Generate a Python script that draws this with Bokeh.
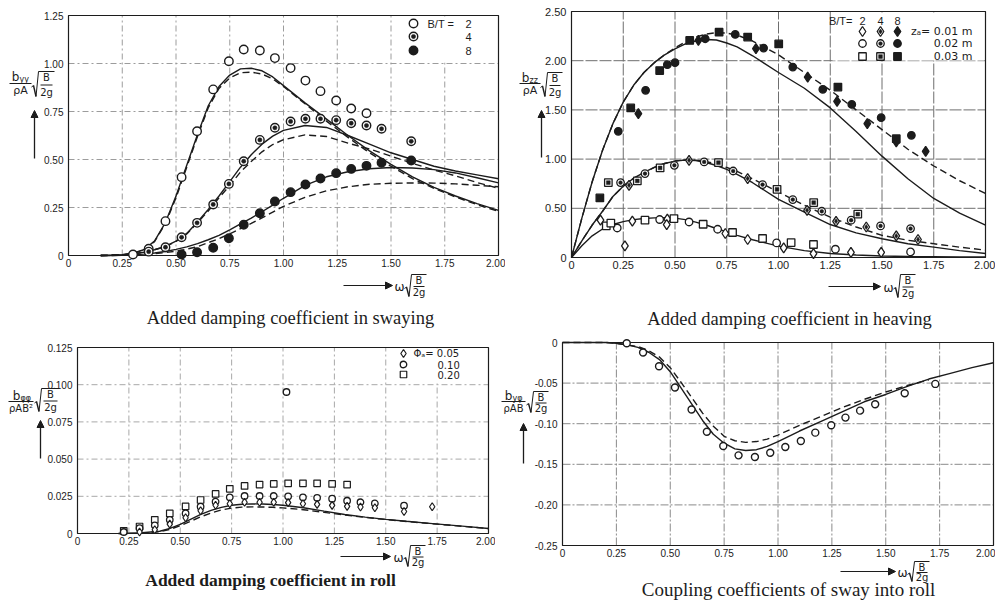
from bokeh.plotting import figure
from bokeh.models import Range1d, FixedTicker, Label, Arrow, NormalHead, LinearAxis
from bokeh.layouts import column, row
from bokeh.embed import file_html
from bokeh.resources import INLINE

INK = "#1c1c1c"
SANS = "Liberation Sans"
GREEK = "DejaVu Sans"
SERIF = "Liberation Serif"

# ====================== DATA ======================
X_TICKS = [0, 0.25, 0.5, 0.75, 1.0, 1.25, 1.5, 1.75, 2.0]
X_LABELS = ["0", "0.25", "0.50", "0.75", "1.00", "1.25", "1.50", "1.75", "2.00"]

# --- Panel 1: sway damping ---
SW_Y_TICKS = [0, 0.25, 0.5, 0.75, 1.0, 1.25]
SW_Y_LABELS = ["0", "0.25", "0.50", "0.75", "1.00", "1.25"]
SW2_X = [0.30, 0.373, 0.451, 0.526, 0.598, 0.673, 0.746, 0.815, 0.890, 0.960, 1.033, 1.102, 1.172, 1.245, 1.315, 1.386]
SW2_Y = [0.005, 0.035, 0.179, 0.408, 0.647, 0.865, 1.012, 1.073, 1.068, 1.028, 0.976, 0.911, 0.856, 0.807, 0.766, 0.741]
SW4_X = [0.373, 0.451, 0.526, 0.598, 0.673, 0.746, 0.815, 0.890, 0.960, 1.033, 1.102, 1.172, 1.245, 1.315, 1.386, 1.456, 1.594]
SW4_Y = [0.020, 0.043, 0.095, 0.170, 0.266, 0.373, 0.491, 0.602, 0.665, 0.698, 0.712, 0.712, 0.705, 0.689, 0.677, 0.660, 0.595]
SW8_X = [0.526, 0.598, 0.673, 0.746, 0.815, 0.890, 0.960, 1.033, 1.102, 1.172, 1.245, 1.315, 1.386, 1.456, 1.594]
SW8_Y = [0.005, 0.017, 0.040, 0.090, 0.160, 0.220, 0.281, 0.330, 0.370, 0.401, 0.429, 0.451, 0.467, 0.483, 0.495]
SW_CX = [0.15, 0.2, 0.25, 0.3, 0.35, 0.4, 0.45, 0.5, 0.55, 0.6, 0.65, 0.7, 0.75, 0.8, 0.85, 0.9, 0.95, 1.0,
         1.1, 1.2, 1.3, 1.4, 1.5, 1.6, 1.7, 1.8, 1.9, 2.0]
SW2_SOLID = [0, 0.001, 0.004, 0.012, 0.03, 0.075, 0.17, 0.31, 0.47, 0.63, 0.78, 0.88, 0.94, 0.972, 0.975, 0.962, 0.93, 0.885,
             0.795, 0.71, 0.625, 0.545, 0.475, 0.41, 0.355, 0.31, 0.27, 0.235]
SW2_DASH = [0, 0.001, 0.004, 0.011, 0.028, 0.072, 0.165, 0.30, 0.46, 0.62, 0.77, 0.87, 0.925, 0.952, 0.955, 0.945, 0.92, 0.88,
            0.79, 0.70, 0.615, 0.535, 0.465, 0.40, 0.35, 0.305, 0.265, 0.23]
SW4_SOLID = [0, 0.001, 0.003, 0.008, 0.017, 0.03, 0.047, 0.075, 0.115, 0.175, 0.24, 0.31, 0.385, 0.46, 0.525, 0.58, 0.622, 0.652,
             0.677, 0.667, 0.625, 0.58, 0.535, 0.50, 0.465, 0.44, 0.42, 0.40]
SW4_DASH = [0, 0.001, 0.003, 0.008, 0.017, 0.03, 0.046, 0.073, 0.112, 0.17, 0.232, 0.30, 0.365, 0.435, 0.49, 0.54, 0.578, 0.603,
            0.628, 0.62, 0.585, 0.555, 0.517, 0.48, 0.445, 0.415, 0.38, 0.35]
SW8_SOLID = [0, 0, 0.001, 0.003, 0.007, 0.013, 0.021, 0.032, 0.045, 0.062, 0.082, 0.105, 0.133, 0.165, 0.195, 0.228, 0.262, 0.298,
             0.365, 0.41, 0.436, 0.452, 0.458, 0.456, 0.447, 0.43, 0.405, 0.378]
SW8_DASH = [0, 0, 0.001, 0.002, 0.005, 0.009, 0.015, 0.023, 0.033, 0.046, 0.067, 0.088, 0.113, 0.14, 0.167, 0.196, 0.226, 0.256,
            0.303, 0.337, 0.358, 0.371, 0.376, 0.378, 0.377, 0.373, 0.366, 0.358]

# --- Panel 2: heave damping ---
HV_Y_TICKS = [0, 0.5, 1.0, 1.5, 2.0, 2.5]
HV_Y_LABELS = ["0", "0.50", "1.00", "1.50", "2.00", "2.50"]
# B/T = 8 (filled)
HV8_DI_X = [0.323, 0.613, 0.891, 1.141, 1.283, 1.429, 1.569, 1.711]
HV8_DI_Y = [1.462, 2.206, 2.122, 1.834, 1.587, 1.36, 1.174, 1.079]
HV8_CI_X = [0.226, 0.358, 0.463, 0.5, 0.646, 0.791, 0.928, 1.069, 1.214, 1.354, 1.496, 1.642]
HV8_CI_Y = [1.282, 1.699, 1.96, 1.98, 2.223, 2.267, 2.128, 1.935, 1.709, 1.556, 1.421, 1.242]
HV8_SQ_X = [0.137, 0.286, 0.426, 0.571, 0.713, 0.851, 1.001, 1.287, 1.569]
HV8_SQ_Y = [0.605, 1.52, 1.90, 2.206, 2.29, 2.24, 2.17, 1.732, 1.208]
# B/T = 4 (half filled)
HV4_DI_X = [0.278, 0.568, 0.851, 1.138, 1.278, 1.424, 1.569, 1.674]
HV4_DI_Y = [0.734, 0.988, 0.802, 0.48, 0.368, 0.31, 0.219, 0.183]
HV4_CI_X = [0.237, 0.355, 0.497, 0.641, 0.781, 0.923, 1.069, 1.209, 1.351, 1.493, 1.638]
HV4_CI_Y = [0.761, 0.853, 0.937, 0.971, 0.879, 0.741, 0.589, 0.47, 0.379, 0.321, 0.294]
HV4_SQ_X = [0.178, 0.318, 0.428, 0.71, 0.993, 1.17, 1.383]
HV4_SQ_Y = [0.761, 0.778, 0.91, 0.964, 0.693, 0.558, 0.44]
# B/T = 2 (open)
HV2_DI_X = [0.140, 0.258, 0.294, 0.463, 0.46, 0.743, 0.851, 1.025, 1.169, 1.35, 1.496]
HV2_DI_Y = [0.379, 0.118, 0.369, 0.39, 0.335, 0.244, 0.183, 0.098, 0.04, 0.051, 0.051]
HV2_CI_X = [0.221, 0.426, 0.568, 0.706, 0.991, 1.275, 1.638]
HV2_CI_Y = [0.30, 0.386, 0.361, 0.287, 0.148, 0.084, 0.057]
HV2_SQ_X = [0.168, 0.19, 0.355, 0.495, 0.636, 0.778, 0.923, 1.061, 1.169]
HV2_SQ_Y = [0.321, 0.35, 0.379, 0.396, 0.338, 0.254, 0.193, 0.152, 0.132]
HV_CX = [0, 0.05, 0.1, 0.15, 0.2, 0.25, 0.3, 0.35, 0.4, 0.45, 0.5, 0.55, 0.6, 0.65, 0.7, 0.75, 0.8, 0.875,
         1.0, 1.125, 1.25, 1.375, 1.5, 1.625, 1.75, 1.875, 2.0]
HV8_SOLID = [0, 0.40, 0.77, 1.09, 1.36, 1.58, 1.75, 1.88, 1.98, 2.06, 2.12, 2.17, 2.20, 2.215, 2.21, 2.18, 2.14, 2.05,
             1.88, 1.72, 1.52, 1.28, 1.03, 0.80, 0.60, 0.45, 0.33]
HV8_DASH = [0, 0.40, 0.77, 1.09, 1.36, 1.58, 1.75, 1.88, 1.98, 2.06, 2.13, 2.19, 2.24, 2.27, 2.285, 2.28, 2.26, 2.20,
            2.06, 1.88, 1.70, 1.50, 1.30, 1.10, 0.93, 0.78, 0.65]
HV4_SOLID = [0, 0.17, 0.33, 0.47, 0.62, 0.725, 0.805, 0.865, 0.915, 0.955, 0.98, 0.99, 0.985, 0.965, 0.935, 0.895, 0.845, 0.76,
             0.59, 0.46, 0.335, 0.25, 0.19, 0.14, 0.105, 0.07, 0.04]
HV4_DASH = [0, 0.17, 0.33, 0.47, 0.62, 0.725, 0.805, 0.865, 0.915, 0.955, 0.98, 0.992, 0.99, 0.975, 0.95, 0.915, 0.875, 0.80,
            0.665, 0.53, 0.41, 0.31, 0.225, 0.175, 0.14, 0.105, 0.075]
HV2_SOLID = [0, 0.12, 0.22, 0.29, 0.335, 0.365, 0.385, 0.397, 0.403, 0.405, 0.40, 0.385, 0.36, 0.33, 0.295, 0.26, 0.225, 0.18,
             0.115, 0.07, 0.04, 0.025, 0.015, 0.01, 0.008, 0.006, 0.005]

# --- Panel 3: roll damping ---
RO_Y_TICKS = [0, 0.025, 0.05, 0.075, 0.1, 0.125]
RO_Y_LABELS = ["0", "0.025", "0.050", "0.075", "0.100", "0.125"]
RO_SQ_X = [0.225, 0.302, 0.376, 0.449, 0.526, 0.599, 0.672, 0.741, 0.813, 0.886, 0.955, 1.025, 1.097, 1.166, 1.239, 1.312]
RO_SQ_Y = [0.0018, 0.0047, 0.0092, 0.0135, 0.0182, 0.0225, 0.0266, 0.0300, 0.0320, 0.0329, 0.0333, 0.0337, 0.0337, 0.0337, 0.0333, 0.0329]
RO_CI_X = [0.225, 0.302, 0.376, 0.449, 0.526, 0.599, 0.672, 0.741, 0.813, 0.886, 0.955, 1.025, 1.097, 1.166, 1.239, 1.312,
           1.377, 1.447, 1.589, 1.017]
RO_CI_Y = [0.001, 0.0036, 0.0055, 0.0092, 0.0135, 0.018, 0.0214, 0.0243, 0.0252, 0.0252, 0.0252, 0.025, 0.0243, 0.024, 0.0234, 0.022,
           0.021, 0.0202, 0.0187, 0.0951]
RO_DI_X = [0.302, 0.376, 0.449, 0.526, 0.599, 0.672, 0.741, 0.813, 0.886, 0.955, 1.025, 1.097, 1.166, 1.239, 1.312, 1.377, 1.447,
           1.589, 1.726]
RO_DI_Y = [0.001, 0.0025, 0.0063, 0.0106, 0.0153, 0.019, 0.020, 0.021, 0.021, 0.021, 0.0207, 0.020, 0.0196, 0.0189, 0.0182, 0.0178,
           0.0173, 0.0148, 0.018]
RO_CX = [0.2, 0.3, 0.4, 0.45, 0.5, 0.55, 0.6, 0.65, 0.7, 0.75, 0.8, 0.85, 0.9, 0.95, 1.0, 1.1, 1.2, 1.3, 1.4, 1.5, 1.6, 1.7, 1.8, 1.9, 2.0]
RO_SOLID = [0, 0.0003, 0.0015, 0.0034, 0.0062, 0.0095, 0.0128, 0.0155, 0.0176, 0.0190, 0.0197, 0.0199, 0.0198, 0.0195, 0.0190,
            0.0173, 0.0150, 0.0128, 0.0110, 0.0095, 0.0082, 0.0070, 0.0058, 0.0046, 0.0034]
RO_DASH = [0, 0.0002, 0.0012, 0.0028, 0.0052, 0.0082, 0.0112, 0.0138, 0.0158, 0.0171, 0.0177, 0.0179, 0.0178, 0.0176, 0.0172,
           0.0160, 0.0142, 0.0124, 0.0108, 0.0094, 0.0081, 0.0069, 0.0057, 0.0045, 0.0033]

# --- Panel 4: sway-roll coupling ---
CP_Y_TICKS = [-0.25, -0.2, -0.15, -0.1, -0.05, 0]
CP_Y_LABELS = ["-0.25", "-0.20", "-0.15", "-0.10", "-0.05", "0"]
CP_X = [0.298, 0.374, 0.448, 0.522, 0.599, 0.670, 0.746, 0.817, 0.893, 0.964, 1.034, 1.106, 1.173, 1.247, 1.313, 1.381, 1.451, 1.588, 1.730]
CP_Y = [-0.001, -0.0123, -0.0292, -0.0555, -0.0826, -0.110, -0.1275, -0.139, -0.141, -0.1357, -0.1287, -0.1213, -0.111, -0.102,
        -0.0925, -0.0839, -0.076, -0.0625, -0.051]
CP_CX = [0, 0.2, 0.25, 0.3, 0.35, 0.4, 0.45, 0.5, 0.55, 0.6, 0.65, 0.7, 0.75, 0.8, 0.85, 0.9, 0.95, 1.0, 1.1, 1.2, 1.3, 1.4, 1.5,
         1.6, 1.7, 1.8, 1.9, 2.0]
CP_SOLID = [0, 0, -0.001, -0.003, -0.006, -0.012, -0.021, -0.036, -0.056, -0.076, -0.096, -0.113, -0.124, -0.131, -0.133, -0.132,
            -0.128, -0.122, -0.109, -0.097, -0.085, -0.073, -0.064, -0.054, -0.045, -0.038, -0.031, -0.025]
CP_DX = [0, 0.2, 0.25, 0.3, 0.35, 0.4, 0.45, 0.5, 0.55, 0.6, 0.65, 0.7, 0.75, 0.8, 0.85, 0.9, 0.95, 1.0, 1.1, 1.2, 1.3, 1.4, 1.5, 1.6, 1.7]
CP_DASH = [0, 0, -0.001, -0.003, -0.005, -0.010, -0.018, -0.031, -0.049, -0.068, -0.087, -0.103, -0.1155, -0.121, -0.123, -0.122,
           -0.119, -0.114, -0.102, -0.091, -0.080, -0.070, -0.061, -0.053, -0.046]

# ====================== LAYOUT (page pixels) ======================
# figure: width, height, page origin x, page origin y
FIG = {"sw": (505, 330, 0, 0), "hv": (490, 330, 505, 0), "ro": (495, 271, 0, 330), "cp": (500, 271, 495, 330)}
# plot box: left, right, top, bottom (page px)
FRAME = {"sw": (68, 498, 15, 255), "hv": (571, 985, 11, 257), "ro": (77, 488, 347, 533), "cp": (562, 993, 342, 545)}
RANGE = {"sw": (0, 2, 0, 1.25), "hv": (0, 2, 0, 2.5), "ro": (0, 2, 0, 0.125), "cp": (0, 2, -0.25, 0)}


def to_data(key, px, py):
    fl, fr, ft, fb = FRAME[key]
    x0, x1, y0, y1 = RANGE[key]
    return x0 + (px - fl) / (fr - fl) * (x1 - x0), y1 - (py - ft) / (fb - ft) * (y1 - y0)


def make(key, yt, yl, grid_color, grid_dash, label_size="10px"):
    W, H, ox, oy = FIG[key]
    fl, fr, ft, fb = FRAME[key]
    x0, x1, y0, y1 = RANGE[key]
    dx = (x1 - x0) / (fr - fl)
    dy = (y1 - y0) / (fb - ft)
    p = figure(width=W, height=H,
               x_range=Range1d(x0 - (fl - ox) * dx, x1 + (ox + W - fr) * dx),
               y_range=Range1d(y0 - (oy + H - fb) * dy, y1 + (ft - oy) * dy),
               x_axis_type=None, y_axis_type=None,
               output_backend="svg", toolbar_location=None, min_border=0)
    p.background_fill_color = "white"
    p.border_fill_color = "white"
    p.outline_line_color = None
    # grid lines at the tick values, spanning the plot box only
    p.segment(x0=X_TICKS, y0=[y0] * len(X_TICKS), x1=X_TICKS, y1=[y1] * len(X_TICKS),
              line_color=grid_color, line_dash=grid_dash, line_width=1)
    p.segment(x0=[x0] * len(yt), y0=yt, x1=[x1] * len(yt), y1=yt,
              line_color=grid_color, line_dash=grid_dash, line_width=1)
    xa = LinearAxis(fixed_location=y0, ticker=FixedTicker(ticks=X_TICKS),
                    major_label_overrides=dict(zip(X_TICKS, X_LABELS)))
    ya = LinearAxis(fixed_location=x0, ticker=FixedTicker(ticks=yt),
                    major_label_overrides=dict(zip(yt, yl)))
    for ax in (xa, ya):
        ax.axis_line_color = None
        ax.major_tick_line_color = None
        ax.minor_tick_line_color = None
        ax.major_tick_out = 0
        ax.major_tick_in = 0
        ax.major_label_text_font = SANS
        ax.major_label_text_font_size = label_size
        ax.major_label_text_color = INK
    xa.major_label_standoff = 3
    ya.major_label_standoff = 5
    p.add_layout(xa, "below")
    p.add_layout(ya, "left")
    return p


def box(p, key):
    x0, x1, y0, y1 = RANGE[key]
    p.quad(left=[x0], right=[x1], bottom=[y0], top=[y1], fill_color=None, line_color=INK, line_width=1.2)


def label(p, key, px, py, s, size=11, align="center", font=SANS, style="normal"):
    x, y = to_data(key, px, py)
    p.add_layout(Label(x=x, y=y, text=s, text_font=font, text_font_size=f"{size}px", text_align=align,
                       text_baseline="middle", text_color=INK, text_font_style=style))


def seg(p, key, a, b, w=1.0, head=None):
    xs, ys = to_data(key, *a)
    xe, ye = to_data(key, *b)
    p.add_layout(Arrow(x_start=xs, y_start=ys, x_end=xe, y_end=ye, start=None, end=head,
                       line_color=INK, line_width=w))


def radical(p, key, xl, yt, yb, w, size=10):
    mid = (yt + yb) / 2
    seg(p, key, (xl, mid + 3), (xl + 2, mid + 1.5))
    seg(p, key, (xl + 2, mid + 1.5), (xl + 4.5, yb), w=1.4)
    seg(p, key, (xl + 4.5, yb), (xl + 7, yt))
    seg(p, key, (xl + 7, yt), (xl + 9 + w, yt))
    cx = xl + 8 + w / 2
    label(p, key, cx, yt + 5.5, "B", size, font=GREEK)
    seg(p, key, (cx - w / 2 + 1, mid + 1), (cx + w / 2 - 1, mid + 1))
    label(p, key, cx, yb - 4.5, "2g", size, font=GREEK)


def xlabel(p, key, ax0, ax1, ay, wx, rx, ryt, ryb):
    seg(p, key, (ax0, ay), (ax1, ay), w=1.2, head=NormalHead(size=7, fill_color=INK, line_color=INK))
    label(p, key, wx, ay + 1, "ω", 12, font=GREEK)
    radical(p, key, rx, ryt, ryb, 13)


def ylabel(p, key, bx, by, sub, den, bar, rx, ryt, ryb, rw, arrow_x, arrow_y0, arrow_y1, den_size=11):
    label(p, key, bx, by, "b", 12, font=GREEK)
    label(p, key, bx + 4, by + 3, sub, 8, align="left", font=GREEK)
    seg(p, key, (bar[0], bar[2]), (bar[1], bar[2]))
    label(p, key, (bar[0] + bar[1]) / 2, bar[2] + 7, den, den_size, font=GREEK)
    radical(p, key, rx, ryt, ryb, rw)
    seg(p, key, (arrow_x, arrow_y0), (arrow_x, arrow_y1), w=1.3, head=NormalHead(size=7, fill_color=INK, line_color=INK))


def pts(p, xs, ys, marker, kind, size, lw=1.3):
    if kind == "full":
        p.scatter(xs, ys, marker=marker, size=size, fill_color=INK, line_color=INK, line_width=lw)
    else:
        p.scatter(xs, ys, marker=marker, size=size, fill_color="white", line_color=INK, line_width=lw)
        if kind == "half":
            p.scatter(xs, ys, marker=marker, size=size * 0.5, fill_color=INK, line_color=INK, line_width=0.5)


def curve(p, xs, ys, dashed=False):
    if dashed:
        p.line(xs, ys, line_color=INK, line_width=1.4, line_dash="7 4")
    else:
        p.line(xs, ys, line_color=INK, line_width=1.4)


def legend_box(p, key, px0, px1, py0, py1):
    x0, y0 = to_data(key, px0, py1)
    x1, y1 = to_data(key, px1, py0)
    p.quad(left=[x0], right=[x1], bottom=[y0], top=[y1], fill_color="white", line_color=None)


def legend_pt(p, key, px, py, marker, kind, size, lw=1.3):
    x, y = to_data(key, px, py)
    pts(p, [x], [y], marker, kind, size, lw)


# ====================== PANEL 1 ======================
p1 = make("sw", SW_Y_TICKS, SW_Y_LABELS, "#9c9c9c", "6 3 2 3")
legend_box(p1, "sw", 397, 497, 16, 62)
curve(p1, SW_CX, SW2_SOLID)
curve(p1, SW_CX, SW2_DASH, True)
curve(p1, SW_CX, SW4_SOLID)
curve(p1, SW_CX, SW4_DASH, True)
curve(p1, SW_CX, SW8_SOLID)
curve(p1, SW_CX, SW8_DASH, True)
box(p1, "sw")
pts(p1, SW2_X, SW2_Y, "circle", "open", 8.5, 1.4)
pts(p1, SW4_X, SW4_Y, "circle", "half", 8.5, 1.4)
pts(p1, SW8_X, SW8_Y, "circle", "full", 8.5, 1.4)
for (yy, kind) in [(23, "open"), (36, "half"), (50, "full")]:
    legend_pt(p1, "sw", 413, yy, "circle", kind, 8.5, 1.4)
label(p1, "sw", 427, 23, "B/T =", 11, align="left")
label(p1, "sw", 468, 23, "2", 11)
label(p1, "sw", 468, 36, "4", 11)
label(p1, "sw", 468, 50, "8", 11)
ylabel(p1, "sw", 15, 76, "yy", "ρA", (9, 31, 83), 31, 71, 96, 14, 34, 158, 110)
xlabel(p1, "sw", 343, 392, 285, 399, 404, 274, 296)
label(p1, "sw", 290, 317, "Added damping coefficient in swaying", 18.5, font=SERIF)

# ====================== PANEL 2 ======================
p2 = make("hv", HV_Y_TICKS, HV_Y_LABELS, "#6e6e6e", "12 2", "11px")
legend_box(p2, "hv", 832, 984, 12, 60)
curve(p2, HV_CX, HV8_SOLID)
curve(p2, HV_CX, HV8_DASH, True)
curve(p2, HV_CX, HV4_SOLID)
curve(p2, HV_CX, HV4_DASH, True)
curve(p2, HV_CX, HV2_SOLID)
box(p2, "hv")
for xs, ys, m, k in [(HV8_DI_X, HV8_DI_Y, "diamond", "full"), (HV8_CI_X, HV8_CI_Y, "circle", "full"),
                     (HV8_SQ_X, HV8_SQ_Y, "square", "full"), (HV4_DI_X, HV4_DI_Y, "diamond", "half"),
                     (HV4_CI_X, HV4_CI_Y, "circle", "half"), (HV4_SQ_X, HV4_SQ_Y, "square", "half"),
                     (HV2_DI_X, HV2_DI_Y, "diamond", "open"), (HV2_CI_X, HV2_CI_Y, "circle", "open"),
                     (HV2_SQ_X, HV2_SQ_Y, "square", "open")]:
    size = 10 if m == "diamond" else 7.5
    pts(p2, xs, ys, m, k, size, 1.3)
label(p2, "hv", 852, 20, "B/T=", 11, align="right")
for cx, t, kind in [(862, "2", "open"), (880, "4", "half"), (897, "8", "full")]:
    label(p2, "hv", cx, 20, t, 11)
    legend_pt(p2, "hv", cx, 31, "diamond", kind, 10)
    legend_pt(p2, "hv", cx, 43, "circle", kind, 7.5)
    legend_pt(p2, "hv", cx, 56, "square", kind, 7.5)
label(p2, "hv", 972, 31, "zₐ= 0.01 m", 11, align="right", font=GREEK)
label(p2, "hv", 972, 43, "0.02 m", 11, align="right", font=GREEK)
label(p2, "hv", 972, 56, "0.03 m", 11, align="right", font=GREEK)
ylabel(p2, "hv", 525, 77, "zz", "ρA", (519, 540, 83), 540, 72, 96, 13, 541, 157, 110)
xlabel(p2, "hv", 828, 880, 286, 888, 893, 274, 297)
label(p2, "hv", 789, 318, "Added damping coefficient in heaving", 18.5, font=SERIF)

# ====================== PANEL 3 ======================
p3 = make("ro", RO_Y_TICKS, RO_Y_LABELS, "#a8a8a8", "6 3 2 3")
legend_box(p3, "ro", 391, 487, 348, 383)
curve(p3, RO_CX, RO_SOLID)
curve(p3, RO_CX, RO_DASH, True)
box(p3, "ro")
pts(p3, RO_SQ_X, RO_SQ_Y, "square", "open", 6.5, 1.2)
pts(p3, RO_CI_X, RO_CI_Y, "circle", "open", 6.5, 1.3)
pts(p3, RO_DI_X, RO_DI_Y, "diamond", "open", 8, 1.2)
legend_pt(p3, "ro", 403, 353, "diamond", "open", 8, 1.2)
legend_pt(p3, "ro", 403, 364, "circle", "open", 6.5, 1.3)
legend_pt(p3, "ro", 403, 374, "square", "open", 6.5, 1.2)
label(p3, "ro", 413, 353, "Φₐ= 0.05", 10, align="left", font=GREEK)
label(p3, "ro", 437, 364, "0.10", 10, align="left", font=GREEK)
label(p3, "ro", 437, 374, "0.20", 10, align="left", font=GREEK)
ylabel(p3, "ro", 16, 395, "φφ", "ρAB²", (8, 33, 401), 34, 388, 411, 16, 40, 458, 420, den_size=10)
xlabel(p3, "ro", 340, 390, 556, 398, 403, 545, 566)
label(p3, "ro", 270, 579, "Added damping coefficient in roll", 17.5, font=SERIF, style="bold")

# ====================== PANEL 4 ======================
p4 = make("cp", CP_Y_TICKS, CP_Y_LABELS, "#8a8a8a", "8 2 2 2")
curve(p4, CP_CX, CP_SOLID)
curve(p4, CP_DX, CP_DASH, True)
box(p4, "cp")
pts(p4, CP_X, CP_Y, "circle", "open", 7, 1.4)
ylabel(p4, "cp", 508, 395, "yφ", "ρAB", (501, 525, 401), 526, 391, 412, 13, 523, 463, 423, den_size=10)
xlabel(p4, "cp", 840, 895, 571, 902, 907, 561, 581)
label(p4, "cp", 788, 589, "Coupling coefficients of sway into roll", 19, font=SERIF)

layout = column(row(p1, p2), row(p3, p4))
open("out.html", "w").write(file_html(layout, INLINE))
